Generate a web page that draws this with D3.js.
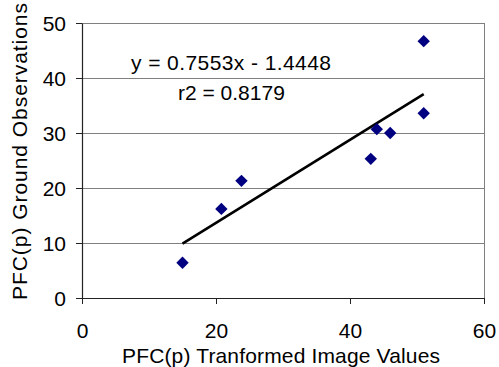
<!DOCTYPE html>
<html>
<head>
<meta charset="utf-8">
<script src="https://cdn.jsdelivr.net/npm/d3@7"></script>
<style>
  html, body { margin: 0; padding: 0; background: #fff; }
  svg { display: block; font-family: "Liberation Sans", Arial, sans-serif; }
</style>
</head>
<body>
<svg id="chart" width="499" height="367"></svg>
<script>
// Transformed image values vs. ground observations
const imageValues  = [15, 20.8, 23.8, 43.1, 44.0, 46.0, 51.0, 51.0];
const groundValues = [6.4, 16.2, 21.3, 25.3, 30.7, 30.0, 33.6, 46.7];

// Linear fit reported on the chart
const slope = 0.7553;
const intercept = -1.4448;
const rSquared = 0.8179;

const xTicks = [0, 20, 40, 60];
const yTicks = [0, 10, 20, 30, 40, 50];

const svg = d3.select("#chart");
const x = d3.scaleLinear().domain([0, 60]).range([82, 484]);
const y = d3.scaleLinear().domain([0, 50]).range([298, 23]);

// Horizontal gridlines
svg.append("g").selectAll("line")
  .data(yTicks.filter(d => d > 0))
  .join("line")
  .attr("x1", x(0)).attr("x2", x(60))
  .attr("y1", d => y(d)).attr("y2", d => y(d))
  .attr("stroke", "#808080").attr("stroke-width", 1)
  .attr("shape-rendering", "crispEdges");

// Right frame edge
svg.append("line")
  .attr("x1", x(60)).attr("x2", x(60))
  .attr("y1", y(50)).attr("y2", y(0))
  .attr("stroke", "#808080").attr("stroke-width", 1)
  .attr("shape-rendering", "crispEdges");

// Axes
const yAxis = d3.axisLeft(y).tickValues(yTicks).tickSize(6).tickPadding(10).tickSizeOuter(0);
const xAxis = d3.axisBottom(x).tickValues(xTicks).tickSize(6).tickPadding(19).tickSizeOuter(0);

const gy = svg.append("g").attr("transform", `translate(${x(0)},0)`).call(yAxis);
const gx = svg.append("g").attr("transform", `translate(0,${y(0)})`).call(xAxis);

[gx, gy].forEach(g => {
  g.select(".domain").attr("stroke", "#222").attr("stroke-width", 1.2);
  g.selectAll(".tick line").attr("stroke", "#222");
  g.selectAll(".tick text")
    .attr("font-family", "'Liberation Sans', Arial, sans-serif")
    .attr("font-size", 21).attr("fill", "#000");
});
gy.selectAll(".tick text").attr("dy", "0.36em");

// Trendline over the observed x range
const [xMin, xMax] = d3.extent(imageValues);
svg.append("line")
  .attr("x1", x(xMin)).attr("y1", y(slope * xMin + intercept))
  .attr("x2", x(xMax)).attr("y2", y(slope * xMax + intercept))
  .attr("stroke", "#000").attr("stroke-width", 2.6);

// Data points as diamonds
const diamond = d3.symbol().type(d3.symbolDiamond2).size(98);
svg.append("g").selectAll("path")
  .data(imageValues.map((v, i) => [v, groundValues[i]]))
  .join("path")
  .attr("d", diamond)
  .attr("transform", d => `translate(${x(d[0])},${y(d[1])})`)
  .attr("fill", "#000080");

// Fit annotation
const fmt = d3.format(".4f");
svg.append("text")
  .attr("x", 131).attr("y", 70)
  .attr("font-size", 21)
  .attr("textLength", 200).attr("lengthAdjust", "spacing")
  .text(`y = ${fmt(slope)}x - ${fmt(Math.abs(intercept))}`);
svg.append("text")
  .attr("x", 178).attr("y", 100)
  .attr("font-size", 21)
  .text(`r2 = ${fmt(rSquared)}`);

// Axis titles
svg.append("text")
  .attr("x", 122).attr("y", 363)
  .attr("font-size", 21)
  .attr("textLength", 318).attr("lengthAdjust", "spacing")
  .text("PFC(p) Tranformed Image Values");
svg.append("text")
  .attr("transform", "translate(27,300) rotate(-90)")
  .attr("font-size", 21)
  .attr("textLength", 297).attr("lengthAdjust", "spacing")
  .text("PFC(p) Ground Observations");
</script>
</body>
</html>
